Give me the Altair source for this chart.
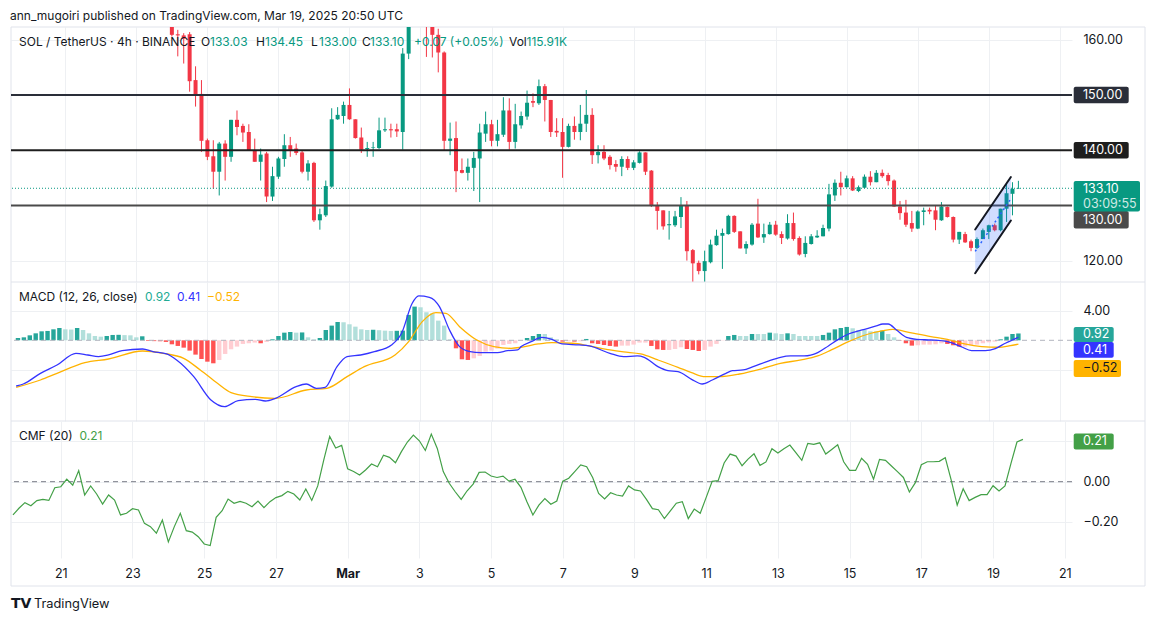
import altair as alt
import pandas as pd

FONT = "Inter"
TXT = "#131722"
UP = "#089981"
DN = "#F23645"
GRID = "#eef0f3"
FRAME = "#e0e3eb"
BLUE = "#3434ff"
ORANGE = "#ffb300"
CMFG = "#43a047"

W = 1061
H1, H2, H3 = 255, 139, 137
HS = 12      # header font size
AS = 12.5    # axis / label-box font size

# ---------------- price candles (4h bars, first = 2025-02-24 00:00 UTC) ----------------
opens = [162.8, 161.0, 160.8, 161.0, 152.7, 150.2, 141.8, 138.9, 136.1, 141.2,
         138.8, 145.5, 144.4, 143.3, 140.0, 137.9, 139.4, 131.6, 135.2, 138.4,
         140.9, 140.3, 139.6, 136.1, 137.7, 127.3, 128.2, 133.4, 145.6, 146.2,
         148.2, 145.6, 142.3, 140.2, 140.4, 140.4, 143.6, 143.8, 143.8, 143.3,
         157.5, 166.0, 172.0, 176.0, 167.0, 160.9, 157.7, 141.7, 142.2, 136.4,
         135.9, 136.8, 138.5, 143.0, 144.7, 141.7, 142.8, 147.2, 141.5, 144.5,
         146.1, 148.9, 148.5, 151.6, 149.1, 143.5, 143.3, 140.6, 144.4, 143.3,
         144.8, 146.4, 139.1, 139.7, 138.8, 137.5, 137.0, 138.4, 136.8, 137.7,
         139.6, 136.3, 130.0, 129.1, 126.4, 126.4, 127.9, 129.9, 121.9, 119.6,
         118.1, 119.7, 122.8, 124.5, 124.8, 128.1, 125.3, 122.2, 122.9, 126.7,
         124.2, 124.8, 126.5, 124.8, 124.0, 126.8, 124.1, 121.2, 123.0, 124.2,
         124.4, 125.8, 131.8, 134.1, 133.3, 134.9, 132.6, 133.2, 135.2, 134.2,
         135.9, 135.5, 134.5, 129.8, 128.7, 126.8, 125.8, 128.8, 129.2, 129.1,
         127.3, 129.7, 127.9, 123.8, 124.8, 123.5, 122.3, 123.9, 125.2, 126.4,
         125.5, 129.4, 132.1, 133.03]
highs = [163.2, 161.8, 161.2, 161.4, 155.2, 152.7, 142.1, 141.8, 141.5, 141.8,
         145.5, 147.2, 144.8, 144.7, 142.1, 140.3, 139.7, 137.0, 138.8, 142.9,
         142.4, 141.2, 140.0, 138.2, 137.9, 129.4, 134.5, 147.6, 147.8, 148.8,
         151.2, 145.6, 144.1, 141.5, 141.5, 145.9, 145.9, 144.8, 144.8, 158.5,
         168.0, 174.0, 179.0, 177.0, 168.0, 162.0, 157.9, 145.0, 145.2, 138.5,
         138.5, 139.7, 144.8, 147.0, 145.5, 145.5, 149.6, 149.4, 148.4, 147.0,
         150.8, 150.3, 152.8, 152.0, 149.1, 145.8, 145.8, 144.8, 146.1, 148.2,
         150.9, 147.6, 140.9, 140.9, 139.1, 138.2, 138.9, 138.9, 138.2, 139.8,
         139.6, 136.4, 130.6, 129.1, 129.0, 129.0, 131.5, 130.8, 122.1, 120.0,
         121.8, 123.8, 125.6, 125.8, 128.3, 128.2, 125.3, 123.5, 126.8, 131.2,
         126.7, 127.0, 127.2, 125.3, 128.4, 128.7, 124.4, 124.4, 124.8, 125.5,
         126.5, 133.9, 134.7, 136.1, 135.4, 135.3, 133.6, 135.6, 136.2, 136.4,
         136.5, 135.9, 134.7, 130.8, 131.0, 129.0, 129.1, 129.6, 129.6, 130.0,
         130.6, 129.8, 128.0, 125.2, 125.2, 123.8, 124.2, 125.8, 126.5, 126.7,
         129.4, 133.9, 134.2, 134.45]
lows = [160.6, 157.0, 155.7, 150.6, 147.9, 139.7, 138.2, 133.0, 131.8, 134.5,
        137.9, 142.7, 141.5, 139.9, 137.9, 134.5, 130.6, 130.8, 134.8, 137.0,
        138.8, 139.1, 135.8, 134.5, 127.0, 125.6, 127.9, 133.2, 145.5, 144.8,
        145.5, 142.1, 139.5, 138.8, 138.8, 140.2, 143.3, 142.3, 142.4, 140.1,
        156.5, 164.0, 170.0, 156.9, 156.8, 154.1, 140.0, 139.1, 132.4, 135.8,
        134.5, 132.6, 130.6, 141.5, 140.7, 140.7, 142.4, 140.1, 140.3, 143.9,
        145.5, 147.8, 148.2, 145.2, 142.4, 142.4, 135.0, 140.5, 141.9, 141.8,
        143.3, 137.5, 137.6, 138.2, 136.5, 136.1, 135.3, 136.4, 136.4, 137.6,
        135.5, 129.7, 125.6, 125.6, 123.8, 126.1, 125.9, 120.0, 116.2, 117.5,
        116.2, 119.5, 122.7, 118.5, 124.7, 125.0, 122.2, 121.2, 122.7, 124.1,
        123.2, 124.7, 124.5, 123.0, 123.8, 123.6, 120.9, 120.6, 122.9, 124.1,
        124.4, 125.3, 130.8, 131.8, 133.2, 132.6, 132.4, 133.1, 133.6, 134.2,
        135.0, 133.6, 129.7, 127.4, 126.1, 125.2, 125.7, 126.4, 128.4, 125.5,
        127.2, 127.8, 123.3, 123.0, 123.2, 121.7, 122.1, 123.9, 123.9, 125.3,
        125.3, 127.0, 128.2, 133.00]
closes = [160.9, 160.8, 160.2, 152.5, 150.0, 141.7, 138.8, 136.1, 141.2, 138.8,
          145.5, 144.2, 143.2, 140.0, 137.9, 139.2, 131.6, 135.3, 138.5, 140.9,
          140.0, 139.5, 136.1, 137.6, 127.3, 128.4, 133.5, 145.6, 146.4, 148.2,
          145.6, 142.2, 140.1, 140.4, 140.5, 143.6, 143.8, 143.6, 143.4, 157.5,
          166.0, 172.0, 176.0, 167.0, 160.9, 157.7, 141.7, 142.1, 136.2, 135.9,
          137.0, 138.6, 143.2, 144.7, 141.7, 142.9, 147.2, 141.5, 144.7, 146.2,
          148.6, 148.6, 151.6, 149.1, 143.3, 143.2, 140.6, 144.4, 143.3, 144.8,
          146.4, 139.1, 139.7, 138.5, 137.3, 137.0, 138.4, 136.8, 137.8, 139.6,
          136.1, 129.9, 129.0, 126.2, 126.6, 128.0, 130.0, 121.7, 119.5, 118.1,
          119.9, 122.9, 124.5, 125.0, 128.1, 125.2, 122.2, 123.0, 126.5, 124.2,
          124.8, 126.5, 124.7, 124.1, 126.8, 123.9, 121.1, 123.2, 124.4, 124.5,
          125.9, 132.0, 134.1, 133.3, 134.9, 132.7, 133.3, 135.2, 134.2, 135.9,
          135.3, 134.4, 129.8, 128.6, 126.5, 125.8, 128.9, 129.1, 128.9, 127.4,
          129.8, 127.9, 123.8, 125.2, 123.3, 122.3, 123.9, 125.5, 126.4, 125.5,
          129.4, 132.2, 133.0, 133.10]

levels = [150.0, 140.0, 130.0]
level_colors = ["#2a2e39", "#1e1e1e", "#4a4a4a"]
last_price = 133.10

# parallel channel (bar index, lower, upper)
chan_idx = [135.70, 141.73]
chan_lo = [117.70, 127.27]
chan_hi = [125.64, 135.15]

# ---------------- MACD (bars from index -26 to 143) ----------------
hist_vals = [0.31, 0.40, 0.67, 0.94, 1.21, 1.26, 1.48, 1.66, 1.48, 1.45,
             1.66, 1.39, 0.94, 0.58, 0.49, 0.58, 0.72, 0.74, 0.70, 0.67,
             0.40, 0.54, -0.09, -0.11, -0.13, -0.22, -0.54, -0.76, -0.99, -1.39,
             -1.93, -2.52, -2.88, -3.10, -2.65, -1.84, -1.21, -0.85, -0.49, -0.40,
             -0.31, -0.40, -0.22, 0.13, 0.58, 1.03, 1.12, 1.03, 1.06, 0.40,
             0.13, 0.31, 1.39, 1.98, 2.47, 2.43, 2.16, 1.84, 1.48, 1.39,
             1.42, 1.36, 1.30, 1.26, 1.28, 1.30, 3.42, 4.54, 4.45, 3.78,
             3.64, 2.65, 1.98, 0.13, -1.08, -2.56, -2.65, -2.43, -2.11, -1.53,
             -1.39, -1.12, -0.63, -0.49, -0.40, -0.04,
             0.31, 0.58, 0.85, 0.85, 0.40, 0.13, -0.18, -0.13, -0.18, -0.13,
             0.18, -0.40, -0.49, -0.63, -0.76, -0.85, -0.72, -0.72, -0.58, -0.31,
             -0.31, -0.76, -1.21, -1.30, -1.30, -1.17, -0.94, -1.17, -1.30, -1.44,
             -1.30, -0.85, -0.49, -0.04, 0.58, 0.72, 0.58, 0.58, 0.85, 0.85,
             0.85, 1.03, 0.94, 0.85, 0.94, 0.85, 0.58, 0.58, 0.58, 0.58,
             0.72, 1.03, 1.48, 1.66, 1.80, 1.62, 1.39, 1.39, 1.21, 1.21,
             1.30, 0.85, 0.40, -0.04, -0.40, -0.72, -0.67, -0.58, -0.58, -0.54,
             -0.40, -0.49, -0.67, -0.85, -0.85, -0.67, -0.58, -0.40, -0.27, -0.18,
             0.13, 0.49, 0.85, 0.92]

macd_idx = [-26.3, -25.1, -22.2, -19.4, -16.2, -14.2, -12.4, -10.7, -8.4, -4.95,
            -3.2, -0.9, 0.8, 3.7, 6.6, 8.9, 11.2, 14.1, 15.8, 17.5,
            21.0, 22.7, 24.4, 25.9, 27.9, 29.6, 31.9, 34.2, 37.1, 38.8,
            40.6, 41.7, 43.5, 45.2, 46.9, 48.6, 50.4, 52.1, 55.0, 56.7,
            58.4, 59.0, 60.7, 62.5, 64.2, 65.9, 68.8, 70.5, 74.0, 76.3,
            78.6, 79.8, 82.1, 83.8, 85.5, 87.8, 89.6, 91.3, 93.6, 94.7,
            96.5, 98.2, 100.5, 102.8, 104.5, 106.8, 109.1, 110.9, 112.6, 114.3,
            116.6, 119.0, 120.1, 121.0, 122.4, 124.1, 125.9, 128.2, 131.0, 133.3,
            135.1, 137.4, 139.1, 140.8, 143.0]
macd_vals = [-6.16, -5.89, -4.45, -3.33, -1.75, -1.98, -2.20, -1.98, -1.39, -1.17,
             -1.53, -1.84, -2.65, -4.90, -8.04, -8.94, -8.13, -7.96, -8.18, -7.82,
             -6.25, -5.89, -6.47, -6.34, -3.55, -2.20, -1.98, -1.53, -0.63, 0.94,
             4.99, 5.98, 5.80, 4.54, 1.39, -0.85, -1.53, -1.66, -1.66, -1.39,
             -1.30, -0.85, -0.18, 0.40, 0.13, -0.49, -0.63, -0.76, -1.75, -2.20,
             -2.11, -2.29, -3.55, -4.09, -4.22, -5.26, -5.89, -5.35, -4.45, -4.09,
             -4.00, -3.55, -2.88, -2.29, -2.11, -2.11, -1.66, -0.76, 0.13, 0.85,
             1.39, 1.93, 2.20, 2.20, 1.39, 0.40, 0.13, 0.04, -0.18, -0.85,
             -1.39, -1.39, -1.12, -0.40, 0.41]

sig_idx = [-26.3, -22.2, -19.4, -14.7, -10.7, -4.95, -1.5, 2.0, 4.8, 7.7,
           10.0, 13.5, 17.5, 22.7, 26.2, 29.6, 32.5, 37.7, 40.0, 42.3,
           44.6, 46.3, 48.6, 51.5, 54.4, 57.3, 59.0, 61.9, 64.2, 67.7,
           70.5, 74.0, 76.3, 79.2, 82.1, 85.5, 87.8, 90.1, 92.4, 95.9,
           99.3, 102.8, 106.3, 109.1, 111.4, 114.3, 116.6, 120.1, 121.8, 124.7,
           128.2, 131.0, 133.9, 136.8, 139.7, 141.4, 143.0]
sig_vals = [-6.34, -5.35, -4.45, -3.01, -2.52, -1.44, -1.75, -2.43, -4.00, -5.80,
            -7.06, -7.60, -7.82, -6.70, -6.47, -4.90, -3.55, -1.98, -0.18, 2.52,
            3.73, 3.64, 1.84, 0.04, -0.85, -1.08, -0.94, -0.49, -0.31, -0.40,
            -0.76, -1.30, -1.57, -1.84, -2.65, -3.64, -4.36, -4.90, -4.90, -4.54,
            -3.91, -3.10, -2.65, -2.11, -1.30, -0.18, 0.58, 1.30, 1.48, 1.03,
            0.49, 0.13, -0.49, -0.85, -0.94, -0.76, -0.52]

# ---------------- CMF (bars from index -26 to 143) ----------------
cmf_vals = [-0.165, -0.132, -0.104, -0.119, -0.094, -0.088, -0.093, -0.030, -0.025, 0.013,
            -0.017, 0.055, -0.066, -0.021, -0.061, -0.111, -0.066, -0.091, -0.165, -0.157,
            -0.134, -0.140, -0.207, -0.223, -0.256, -0.190, -0.299, -0.223, -0.157, -0.243,
            -0.250, -0.273, -0.309, -0.317, -0.177, -0.144, -0.086, -0.107, -0.098, -0.107,
            -0.124, -0.096, -0.129, -0.099, -0.079, -0.069, -0.048, -0.061, -0.091, -0.036,
            -0.093, -0.021, 0.107, 0.225, 0.167, 0.180, 0.064, 0.051, 0.033, 0.058,
            0.088, 0.074, 0.131, 0.121, 0.094, 0.149, 0.197, 0.231, 0.203, 0.155,
            0.236, 0.165, 0.050, -0.008, -0.050, -0.088, -0.045, -0.012, 0.046, 0.048,
            0.028, 0.021, 0.028, 0.003, 0.012, -0.028, -0.099, -0.165, -0.116,
            -0.084, -0.112, -0.096, 0.003, 0.017, 0.050, 0.083, 0.074, 0.021, -0.058,
            -0.086, -0.055, -0.066, -0.071, -0.021, -0.041, -0.046, -0.088, -0.134, -0.139,
            -0.183, -0.145, -0.107, -0.099, -0.183, -0.136, -0.157, -0.078, 0.002, 0.005,
            0.093, 0.137, 0.127, 0.079, 0.112, 0.139, 0.081, 0.098, 0.164, 0.142,
            0.164, 0.182, 0.144, 0.106, 0.190, 0.185, 0.193, 0.137, 0.160, 0.183,
            0.099, 0.056, 0.056, 0.116, 0.086, 0.012, 0.111, 0.106, 0.078, 0.050,
            0.021, -0.051, -0.005, 0.084, 0.099, 0.099, 0.101, 0.119, 0.008, -0.116,
            -0.035, -0.094, -0.078, -0.064, -0.064, -0.020, -0.046, -0.021, 0.091, 0.197,
            0.21]

# ---------------- time helpers ----------------
BASE_MS = int(pd.Timestamp("2025-02-24T00:00:00Z").value // 10**6)
BAR_MS = 4 * 3600 * 1000


def tms(k):
    return int(BASE_MS + k * BAR_MS)


day_ticks = [tms(-18 + 12 * i) for i in range(15)]
xscale = alt.Scale(type="utc", domain=[tms(-26.33), tms(151.21)])
xgrid = alt.Axis(values=day_ticks, grid=True, gridColor=GRID, labels=False, ticks=False,
                 domain=False, title=None)

one = pd.DataFrame({"a": [0]})


def txt(text, x, y, color=TXT, size=HS, weight="normal", dy=0, font=FONT):
    return alt.Chart(one).mark_text(align="left", baseline="middle", fontSize=size, font=font,
                                    fontWeight=weight, color=color, dy=dy).encode(
        x=alt.value(x), y=alt.value(y), text=alt.value(text))


def box(value, lines, fill, tcolor, x2, top_dy, bot_dy, ppu):
    hi = value - top_dy / ppu
    lo = value - bot_dy / ppu
    out = [alt.Chart(one).mark_rect(color=fill, cornerRadius=2).encode(
        x=alt.value(1062.7), x2=alt.value(x2), y=alt.datum(hi), y2=alt.datum(lo))]
    for s, d, op in lines:
        out.append(alt.Chart(one).mark_text(align="left", baseline="middle", fontSize=AS,
                                            font=FONT, color=tcolor, opacity=op, dy=d).encode(
            x=alt.value(1072), y=alt.datum(value), text=alt.value(s)))
    return out


def frame(h, top=True):
    f = pd.DataFrame({"a": [0]})
    layers = [
        alt.Chart(f).mark_rule(color=FRAME).encode(x=alt.value(0), y=alt.value(0), y2=alt.value(h)),
        alt.Chart(f).mark_rule(color=FRAME).encode(x=alt.value(1134), y=alt.value(0), y2=alt.value(h)),
        alt.Chart(f).mark_rule(color=FRAME).encode(x=alt.value(0), x2=alt.value(1134), y=alt.value(h)),
    ]
    if top:
        layers.append(alt.Chart(f).mark_rule(color=FRAME).encode(
            x=alt.value(0), x2=alt.value(1134), y=alt.value(0)))
    return layers


# ---------------- price pane ----------------
cand = pd.DataFrame({"t": [tms(k) for k in range(len(opens))], "o": opens, "h": highs,
                     "l": lows, "c": closes})
p_lo, p_hi = 116.12, 162.32
ppu1 = H1 / (p_hi - p_lo)
pys = alt.Scale(domain=[p_lo, p_hi], nice=False, zero=False)
pya = alt.Axis(orient="right", values=[120, 130, 140, 150, 160],
               labelExpr="(datum.value==120||datum.value==160) ? format(datum.value,'.2f') : ''",
               grid=True, gridColor=GRID, ticks=False, tickSize=0, domain=False, labelPadding=11,
               labelFont=FONT, labelFontSize=AS, labelColor=TXT, title=None)
px = alt.X("t:T", scale=xscale, axis=xgrid)
cc = alt.condition("datum.c >= datum.o", alt.value(UP), alt.value(DN))

wick = alt.Chart(cand).mark_rule(clip=True, strokeWidth=1).encode(
    x=px, y=alt.Y("l:Q", scale=pys, axis=pya), y2="h:Q", color=cc)
body = alt.Chart(cand).mark_bar(clip=True, size=4).encode(
    x=px, y=alt.Y("o:Q", scale=pys, axis=pya), y2="c:Q", color=cc)
lev = alt.Chart(pd.DataFrame({"v": levels, "col": level_colors})).mark_rule(strokeWidth=2).encode(
    y=alt.Y("v:Q", scale=pys, axis=pya), color=alt.Color("col:N", scale=None))
lastline = alt.Chart(one).mark_rule(color=UP, strokeDash=[1, 2], strokeWidth=1).encode(
    y=alt.datum(last_price))
chdf = pd.DataFrame({"t": [tms(k) for k in chan_idx], "lo": chan_lo, "hi": chan_hi})
ch_area = alt.Chart(chdf).mark_area(color="#2962ff", opacity=0.22, clip=True).encode(
    x=px, y=alt.Y("lo:Q", scale=pys, axis=pya), y2="hi:Q")
ch_up = alt.Chart(chdf).mark_line(color=TXT, strokeWidth=2, strokeCap="round", clip=True).encode(
    x=px, y=alt.Y("hi:Q", scale=pys, axis=pya))
ch_dn = alt.Chart(chdf).mark_line(color=TXT, strokeWidth=2, strokeCap="round", clip=True).encode(
    x=px, y=alt.Y("lo:Q", scale=pys, axis=pya))
ch_mid = alt.Chart(chdf).transform_calculate(mid="(datum.lo + datum.hi) / 2").mark_line(
    color="#2962ff", strokeWidth=1.5, strokeDash=[2, 3], clip=True).encode(
    x=px, y=alt.Y("mid:Q", scale=pys, axis=pya))

hdr1 = [("SOL / TetherUS · 4h · BINANCE", 8, TXT), ("O", 190, TXT), ("133.03", 199, UP),
        ("H", 245, TXT), ("134.45", 254, UP), ("L", 300, TXT), ("133.00", 308, UP),
        ("C", 351, TXT), ("133.10", 359, UP), ("+0.07 (+0.05%)", 403, UP),
        ("Vol", 498, TXT), ("115.91K", 515.5, UP)]
p1_layers = frame(H1) + [wick, body, lev, lastline, ch_area, ch_up, ch_dn, ch_mid]
p1_layers += [txt(s, x, 15, c) for s, x, c in hdr1]
p1_layers += box(150.0, [("150.00", 0, 1)], "#2a2e39", "white", 1117.7, -8.2, 8.3, ppu1)
p1_layers += box(140.0, [("140.00", 0, 1)], "#1e1e1e", "white", 1117.7, -8.2, 8.3, ppu1)
p1_layers += box(130.0, [("130.00", 14.3, 1)], "#4a4a4a", "white", 1117.7, 5.5, 23.1, ppu1)
p1_layers += box(last_price, [("133.10", 1, 1), ("03:09:55", 15.5, 0.8)], UP, "white", 1129,
                 -7.3, 23.1, ppu1)
price = alt.layer(*p1_layers).properties(width=W, height=H1)

# ---------------- MACD pane ----------------
m_lo, m_hi = -10.876, 7.857
ppu2 = H2 / (m_hi - m_lo)
mys = alt.Scale(domain=[m_lo, m_hi], nice=False, zero=False)
mya = alt.Axis(orient="right", values=[-4, 4],
               labelExpr="datum.value==4 ? format(datum.value,'.2f') : ''",
               grid=True, gridColor=GRID, ticks=False, tickSize=0, domain=False, labelPadding=11,
               labelFont=FONT, labelFontSize=AS, labelColor=TXT, title=None)
hcols = []
prev = None
for v in hist_vals:
    if v >= 0:
        hcols.append("#26A69A" if (prev is None or v > prev) else "#B2DFDB")
    else:
        hcols.append("#FF5252" if (prev is None or v < prev) else "#FFCDD2")
    prev = v
hdf = pd.DataFrame({"t": [tms(k) for k in range(-26, 144)], "v": hist_vals, "col": hcols})
hbar = alt.Chart(hdf).mark_bar(size=4.4, clip=True).encode(
    x=px, y=alt.Y("v:Q", scale=mys, axis=mya), y2=alt.datum(0), color=alt.Color("col:N", scale=None))
mzero = alt.Chart(one).mark_rule(color="#b2b5be", strokeDash=[5, 4], strokeWidth=1).encode(y=alt.datum(0))
mdf = pd.DataFrame({"t": [tms(k) for k in macd_idx], "v": macd_vals})
sdf = pd.DataFrame({"t": [tms(k) for k in sig_idx], "v": sig_vals})
mline = alt.Chart(mdf).mark_line(color=BLUE, strokeWidth=1.3, clip=True, interpolate="monotone").encode(
    x=px, y=alt.Y("v:Q", scale=mys, axis=mya))
sline = alt.Chart(sdf).mark_line(color=ORANGE, strokeWidth=1.3, clip=True, interpolate="monotone").encode(
    x=px, y=alt.Y("v:Q", scale=mys, axis=mya))
hdr2 = [("MACD (12, 26, close)", 8, TXT), ("0.92", 134, "#22ab94"), ("0.41", 166, BLUE),
        ("−0.52", 196, ORANGE)]
p2_layers = frame(H2, top=False) + [hbar, mzero, sline, mline]
p2_layers += [txt(s, x, 15, c) for s, x, c in hdr2]
p2_layers += box(0.92, [("0.92", 1, 1)], "#26a69a", "white", 1102.7, -6.5, 8.5, ppu2)
p2_layers += box(0.41, [("0.41", 12.7, 1)], BLUE, "white", 1102.7, 4.7, 20.4, ppu2)
p2_layers += box(-0.52, [("−0.52", 24.3, 1)], ORANGE, TXT, 1110, 15.8, 32.8, ppu2)
macd = alt.layer(*p2_layers).properties(width=W, height=H2)

# ---------------- CMF pane ----------------
c_lo, c_hi = -0.3787, 0.3012
ppu3 = H3 / (c_hi - c_lo)
cys = alt.Scale(domain=[c_lo, c_hi], nice=False, zero=False)
cya = alt.Axis(orient="right", values=[-0.2, 0, 0.2],
               labelExpr="datum.value < 0.1 ? replace(format(datum.value,'.2f'), '-', '−') : ''",
               grid=True, gridColor=GRID, ticks=False, tickSize=0, domain=False, labelPadding=11,
               labelFont=FONT, labelFontSize=AS, labelColor=TXT, title=None)
xbottom = alt.Axis(values=day_ticks, grid=True, gridColor=GRID, ticks=False, domain=False,
                   labelExpr="utcdate(datum.value) == 1 ? 'Mar' : '' + utcdate(datum.value)",
                   labelFontWeight={"condition": {"test": "utcdate(datum.value) == 1", "value": "bold"},
                                    "value": "normal"},
                   labelFont=FONT, labelFontSize=AS, labelColor=TXT, labelPadding=9,
                   labelFlush=False, labelOverlap=False, title=None)
cdf = pd.DataFrame({"t": [tms(k) for k in range(-26, 144)], "v": cmf_vals})
cline = alt.Chart(cdf).mark_line(color=CMFG, strokeWidth=1.2, clip=True).encode(
    x=alt.X("t:T", scale=xscale, axis=xbottom), y=alt.Y("v:Q", scale=cys, axis=cya))
czero = alt.Chart(one).mark_rule(color="#787b86", strokeDash=[5, 4], strokeWidth=1).encode(y=alt.datum(0))
hdr3 = [("CMF (20)", 8, TXT), ("0.21", 68.5, CMFG)]
p3_layers = frame(165, top=False) + [czero, cline]
p3_layers += [txt(s, x, 14.5, c) for s, x, c in hdr3]
p3_layers += box(0.21, [("0.21", 2, 1)], CMFG, "white", 1102.7, -5.9, 10.2, ppu3)
p3_layers += [txt("TV", 0, 183, TXT, size=14, weight="bold", font="DejaVu Sans"),
              txt("TradingView", 23, 183, TXT, size=12.8)]
cmf = alt.layer(*p3_layers).properties(width=W, height=H3)

chart = alt.vconcat(price, macd, cmf, spacing=0, bounds="flush").properties(
    title=alt.TitleParams("ann_mugoiri published on TradingView.com, Mar 19, 2025 20:50 UTC",
                          anchor="start", fontSize=12, font=FONT, fontWeight="normal",
                          color=TXT, offset=3.5),
    padding={"left": 2, "top": 2, "right": 0, "bottom": 0},
).configure_view(stroke=None)

chart.save("out.html", embed_options={"renderer": "svg", "actions": False})
